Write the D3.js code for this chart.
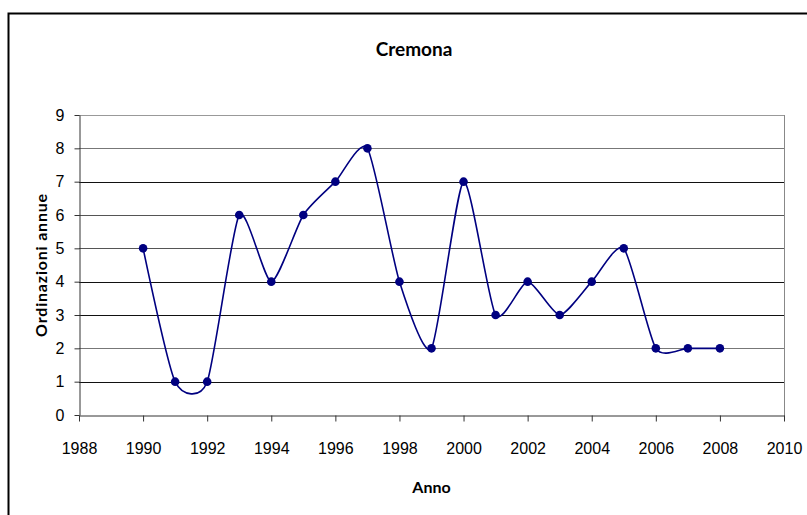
<!DOCTYPE html>
<html>
<head>
<meta charset="utf-8">
<script src="https://cdn.jsdelivr.net/npm/d3@7"></script>
<style>
  body { margin: 0; background: #fff; }
  svg { display: block; font-family: Lato, "Open Sans", sans-serif; }
  .axis text { font-size: 16px; fill: #000; }
  .axis path, .axis line { stroke: #333; }
</style>
</head>
<body>
<div id="chart"></div>
<script>
// values
var years = [1990, 1991, 1992, 1993, 1994, 1995, 1996, 1997, 1998, 1999,
             2000, 2001, 2002, 2003, 2004, 2005, 2006, 2007, 2008];
var ordinazioni = [5, 1, 1, 6, 4, 6, 7, 8, 4, 2, 7, 3, 4, 3, 4, 5, 2, 2, 2];
var xTicks = [1988, 1990, 1992, 1994, 1996, 1998, 2000, 2002, 2004, 2006, 2008, 2010];
var yTicks = [0, 1, 2, 3, 4, 5, 6, 7, 8, 9];

var width = 807, height = 515,
    margin = {top: 115, left: 79, right: 23, bottom: 100}; // plot area inside the frame

var data = years.map((y, i) => ({year: y, value: ordinazioni[i]}));

var svg = d3.select('#chart').append('svg')
    .attr('width', width).attr('height', height);

// outer frame, only top and left edges show in the picture
svg.append('path')
    .attr('d', `M8.5,${height} L8.5,13.5 L${width},13.5`)
    .attr('fill', 'none').attr('stroke', '#000').attr('stroke-width', 2);

var x = d3.scaleLinear()
    .domain([1988, 2010])
    .range([margin.left, width - margin.right]);

var y = d3.scaleLinear()
    .domain([0, 9])
    .range([height - margin.bottom, margin.top]);

// gridlines (the lighter ones look lighter in the original, scaling artefact)
svg.append('g').selectAll('line')
  .data(yTicks.filter(d => d > 0))
  .enter().append('line')
    .attr('x1', x(1988)).attr('x2', x(2010))
    .attr('y1', d => Math.round(y(d)) + 0.5).attr('y2', d => Math.round(y(d)) + 0.5)
    .attr('stroke', d => d === 9 ? '#999' : (d === 8 || d === 2) ? '#777' : (d === 5 || d === 6) ? '#555' : '#111');

// right edge of plot area
svg.append('line')
    .attr('x1', Math.round(x(2010)) + 0.5).attr('x2', Math.round(x(2010)) + 0.5)
    .attr('y1', y(9)).attr('y2', y(0) + 6)
    .attr('stroke', '#888');

var xAxis = d3.axisBottom(x).tickValues(xTicks).tickFormat(d3.format('d'))
    .tickSizeInner(6).tickSizeOuter(0).tickPadding(21);
svg.append('g').attr('class', 'x axis')
    .attr('transform', `translate(0,${Math.round(y(0)) + 0.5})`)
    .call(xAxis);

var yAxis = d3.axisLeft(y).tickValues(yTicks)
    .tickSizeInner(5).tickSizeOuter(0).tickPadding(10);
svg.append('g').attr('class', 'y axis')
    .attr('transform', `translate(${Math.round(x(1988)) + 0.5},0)`)
    .call(yAxis);

// titles
svg.append('text')
    .attr('x', 414).attr('y', 56)
    .attr('text-anchor', 'middle')
    .style('font-size', '19px').style('font-weight', 'bold')
    .text('Cremona');

svg.append('text')
    .attr('x', (x(1988) + x(2010)) / 2).attr('y', 493)
    .attr('text-anchor', 'middle')
    .style('font-size', '16px').style('font-weight', 'bold')
    .text('Anno');

svg.append('text')
    .attr('transform', `translate(47,${(y(0) + y(9)) / 2})rotate(-90)`)
    .attr('text-anchor', 'middle')
    .style('font-size', '16px').style('font-weight', 'bold')
    .style('letter-spacing', '0.8px')
    .text('Ordinazioni annue');

// smoothed series line, close to excel's smoothing
var line = d3.line()
    .curve(d3.curveCardinal.tension(0.35))
    .x(d => x(d.year))
    .y(d => y(d.value));

svg.append('path')
    .datum(data)
    .attr('fill', 'none')
    .attr('stroke', '#000080')
    .attr('stroke-width', 1.6)
    .attr('d', line);

svg.append('g').selectAll('circle')
  .data(data)
  .enter().append('circle')
    .attr('cx', d => x(d.year))
    .attr('cy', d => y(d.value))
    .attr('r', 4.3)
    .attr('fill', '#000080');
</script>
</body>
</html>
